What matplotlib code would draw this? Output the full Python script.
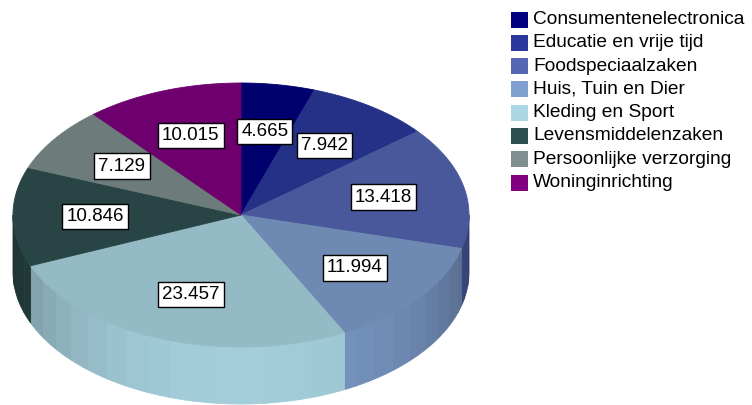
import numpy as np
import matplotlib
matplotlib.use("Agg")
import matplotlib.pyplot as plt
from matplotlib.patches import Polygon, Rectangle
from matplotlib.colors import to_rgb

plt.rcParams['font.family'] = ['Liberation Sans', 'DejaVu Sans']

# data
categories = ['Consumentenelectronica', 'Educatie en vrije tijd', 'Foodspeciaalzaken',
              'Huis, Tuin en Dier', 'Kleding en Sport', 'Levensmiddelenzaken',
              'Persoonlijke verzorging', 'Woninginrichting']
values = [4.665, 7.942, 13.418, 11.994, 23.457, 10.846, 7.129, 10.015]
labels = ['4.665', '7.942', '13.418', '11.994', '23.457', '10.846', '7.129', '10.015']
colors = ['#000080', '#2b399c', '#5566b4', '#80a0d0', '#acd8e6', '#2f4f4f', '#7f8f8f', '#800080']

# geometry of the fake 3d pie (pixels)
cx, cy = 241, 215
a, b = 228, 132
depth = 57
top_shade = 0.86

fig = plt.figure(figsize=(7.52, 4.05), dpi=100)
ax = fig.add_axes([0, 0, 1, 1])
ax.set_xlim(0, 752)
ax.set_ylim(405, 0)
ax.axis('off')


def pt(t, dz=0):
    return cx + a * np.cos(t), cy - b * np.sin(t) + dz


def shade(c, f):
    r, g, bb = to_rgb(c)
    return (min(r * f, 1), min(g * f, 1), min(bb * f, 1))


total = sum(values)
cum = np.concatenate([[0], np.cumsum(values)]) / total
starts = np.radians(90 - 360 * cum[:-1])
ends = np.radians(90 - 360 * cum[1:])

# side walls (front half only), faceted
step = np.radians(6)
for i in range(len(values)):
    t1, t2 = starts[i], ends[i]   # t1 > t2
    edges = np.arange(np.floor(t2 / step) * step, t1 + step, step)
    edges = np.clip(edges, t2, t1)
    edges = np.unique(np.concatenate([[t2], edges, [t1]]))
    for k in range(len(edges) - 1):
        s0, s1 = edges[k], edges[k + 1]
        mid = (s0 + s1) / 2
        if np.sin(mid) >= 0:
            continue
        tt = np.linspace(s0, s1, 6)
        xs, ys = pt(tt)
        xb, yb = pt(tt[::-1], depth)
        f = 0.6 + 0.35 * (-np.sin(mid))
        col = shade(colors[i], f)
        ax.add_patch(Polygon(np.column_stack([np.concatenate([xs, xb]), np.concatenate([ys, yb])]),
                             closed=True, fc=col, ec=col, lw=0.6))

# top face
for i in range(len(values)):
    tt = np.linspace(starts[i], ends[i], 120)
    xs, ys = pt(tt)
    poly = np.column_stack([np.concatenate([[cx], xs]), np.concatenate([[cy], ys])])
    col = shade(colors[i], top_shade)
    ax.add_patch(Polygon(poly, closed=True, fc=col, ec=col, lw=0.6))

# value labels
for i in range(len(values)):
    m = (starts[i] + ends[i]) / 2
    x, y = cx + 0.64 * a * np.cos(m), cy - 0.64 * b * np.sin(m)
    ax.text(x, y, labels[i], ha='center', va='center', fontsize=13.5,
            bbox=dict(boxstyle='square,pad=0.22', fc='white', ec='black', lw=1))

# legend
for i, name in enumerate(categories):
    y = 19.5 + i * 23.3
    ax.add_patch(Rectangle((511, y - 8), 17, 16, fc=colors[i], ec='none'))
    ax.text(533, y, name, ha='left', va='center', fontsize=13.8)

fig.savefig('out.png', dpi=100)
